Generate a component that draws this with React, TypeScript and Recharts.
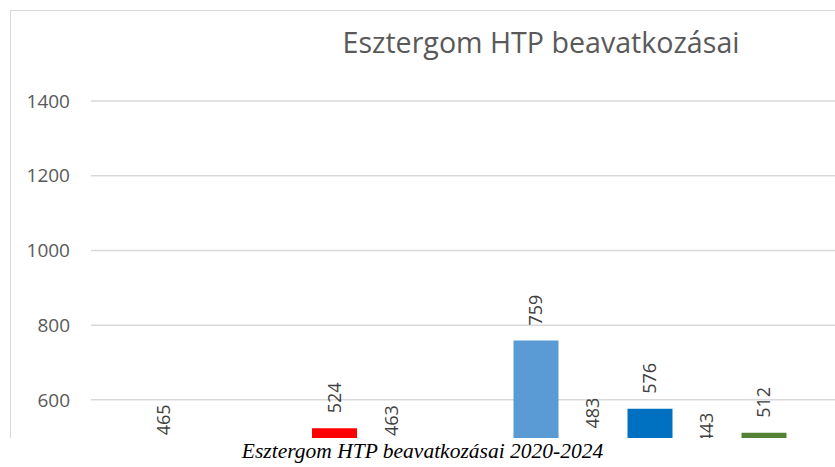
import React from 'react';
import { BarChart, Bar, XAxis, YAxis, CartesianGrid, LabelList } from 'recharts';

// Az ábra egy kivágott Excel diagram: csak a 500 feletti sáv látszik
const categories = ['Tűzeset', 'Műszaki mentés'];
const years = ['2020', '2021', '2022', '2023', '2024'];
const yearColors = ['#5B9BD5', '#ED7D31', '#0070C0', '#FF0000', '#548235'];
const values2020 = [465, 759];
const values2021 = [null, 483];
const values2022 = [null, 576];
const values2023 = [524, 443];
const values2024 = [463, 512];
const yTicks = [600, 800, 1000, 1200, 1400];

const seriesValues = [values2020, values2021, values2022, values2023, values2024];

const chartData = categories.map((name, i) => {
    const row: Record<string, any> = { name };
    years.forEach((year, s) => {
        row[year] = seriesValues[s][i];
    });
    return row;
});

const FONT = "'Open Sans', 'Noto Sans', sans-serif";

// elforgatott adatfelirat az oszlop fölött
const renderLabel = (props: any) => {
    const { x, y, width, value } = props;
    if (value === null || value === undefined) return null;
    const cx = Number(x) + Number(width) / 2;
    const y0 = Number(y) - 15;
    return (
        <text
            x={cx}
            y={y0}
            dy="0.35em"
            transform={`rotate(-90 ${cx} ${y0})`}
            textAnchor="start"
            fill="#404040"
            fontSize={18}
            fontFamily={FONT}
        >
            {value}
        </text>
    );
};

export default function App() {
    return (
        <div style={{ position: 'absolute', left: 0, top: 0, width: 835, height: 467, overflow: 'hidden', background: '#fff' }}>
            <div style={{ position: 'absolute', left: 0, top: 0, width: 835, height: 438, overflow: 'hidden' }}>
                <div style={{ position: 'absolute', left: 10, top: 10, width: 1200, height: 800, border: '1px solid #d9d9d9' }} />
                <div style={{ position: 'absolute', left: 0, top: 0 }}>
                    <BarChart
                        width={1000}
                        height={700}
                        data={chartData}
                        margin={{ top: 101, right: 164, bottom: 76, left: 0 }}
                        barSize={45}
                        barGap={12}
                    >
                        <CartesianGrid vertical={false} stroke="#d9d9d9" strokeWidth={1.5} />
                        <XAxis dataKey="name" hide />
                        <YAxis
                            domain={[0, 1400]}
                            ticks={yTicks}
                            width={91}
                            axisLine={false}
                            tickLine={false}
                            tickSize={0}
                            tickMargin={21}
                            tick={{ fill: '#595959', fontSize: 19, fontFamily: FONT }}
                        />
                        {years.map((year, s) => (
                            <Bar key={year} dataKey={year} fill={yearColors[s]} isAnimationActive={false}>
                                <LabelList dataKey={year} content={renderLabel} />
                            </Bar>
                        ))}
                    </BarChart>
                </div>
                <svg width={835} height={80} style={{ position: 'absolute', left: 0, top: 0 }}>
                    <text x={541} y={53} textAnchor="middle" fill="#595959" fontSize={28.6} fontFamily={FONT}>
                        Esztergom HTP beavatkozásai
                    </text>
                </svg>
            </div>
            <svg width={835} height={29} style={{ position: 'absolute', left: 0, top: 438 }}>
                <text x={422.5} y={20} textAnchor="middle" fill="#000" fontSize={21.5} fontStyle="italic" fontFamily="'Liberation Serif', 'Times New Roman', serif">
                    Esztergom HTP beavatkozásai 2020-2024
                </text>
            </svg>
        </div>
    );
}
